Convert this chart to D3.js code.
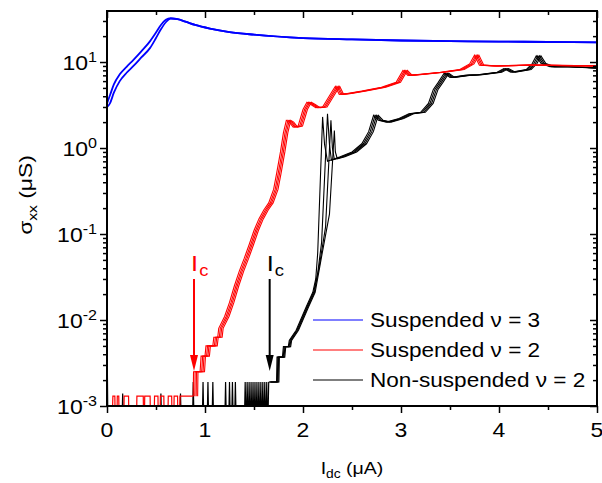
<!DOCTYPE html>
<html>
<head>
<meta charset="utf-8">
<script src="https://cdn.jsdelivr.net/npm/d3@7"></script>
<style>
  body { margin: 0; background: #fff; }
  svg { font-family: "Liberation Sans", Arial, sans-serif; }
</style>
</head>
<body>
<div class="chart"></div>
<script>
// sweep data, I in µA, sigma in µS

// suspended nu = 3, two sweeps (up / down)
const blueUpI = [0, 0.03, 0.07, 0.13, 0.2, 0.27, 0.35, 0.44, 0.5, 0.55, 0.6, 0.65, 0.72, 0.8, 0.9, 1.05, 1.25, 1.5, 2, 2.5, 3, 3.5, 4, 4.5, 5];
const blueUpS = [3.0, 3.3, 4.4, 6.0, 7.5, 9.0, 11.3, 14.6, 19, 24, 29, 32, 31.5, 29.5, 27, 24.5, 22.3, 20.8, 19.0, 18.3, 17.8, 17.5, 17.3, 17.1, 16.9];
const blueDnI = [0, 0.03, 0.07, 0.13, 0.2, 0.27, 0.35, 0.44, 0.5, 0.55, 0.6, 0.65, 0.72, 0.8, 0.9, 1.05, 1.25, 1.5, 2, 2.5, 3, 3.5, 4, 4.5, 5];
const blueDnS = [3.3, 4.1, 5.5, 7.2, 8.8, 10.6, 13.3, 17.5, 22, 27, 31, 32.3, 31.5, 29.5, 27, 24.5, 22.3, 20.8, 19.0, 18.3, 17.8, 17.5, 17.3, 17.1, 16.9];

// suspended nu = 2: noise floor before Ic, then the transition (4 sweeps, each lagging a bit)
const redNoiseI = [0.05, 0.06, 0.08, 0.085, 0.1, 0.105, 0.12, 0.125, 0.17, 0.175, 0.22, 0.225, 0.3, 0.305, 0.37, 0.375, 0.38, 0.385, 0.44, 0.445, 0.48, 0.485, 0.52, 0.525, 0.54, 0.545, 0.58, 0.585, 0.62, 0.625, 0.66, 0.665, 0.68, 0.685, 0.72, 0.725, 0.74, 0.745, 0.88];
const redNoiseS = [0.0005, 0.0013, 0.0013, 0.0005, 0.0005, 0.0013, 0.0013, 0.0005, 0.0005, 0.0013, 0.0013, 0.0005, 0.0005, 0.0013, 0.0013, 0.0005, 0.0005, 0.0013, 0.0013, 0.0005, 0.0005, 0.0013, 0.0013, 0.0005, 0.0005, 0.0013, 0.0013, 0.0005, 0.0005, 0.0013, 0.0013, 0.0005, 0.0005, 0.0013, 0.0013, 0.0005, 0.0005, 0.0013, 0.0013];
const redI = [0.88, 0.883, 0.95, 0.96, 1.0, 1.01, 1.08, 1.09, 1.13, 1.14, 1.2, 1.25, 1.3, 1.35, 1.4, 1.45, 1.5, 1.55, 1.6, 1.65, 1.7, 1.73, 1.77, 1.8, 1.83, 1.86, 1.9, 1.95, 2.0, 2.04, 2.08, 2.13, 2.2, 2.3, 2.33, 2.37, 2.45, 2.6, 2.8, 2.95, 3.02, 3.07, 3.2, 3.4, 3.6, 3.7, 3.75, 3.8, 3.95, 4.3, 5.0];
const redS = [0.0013, 0.0025, 0.0025, 0.0038, 0.0038, 0.005, 0.005, 0.0063, 0.0063, 0.008, 0.011, 0.016, 0.025, 0.037, 0.052, 0.075, 0.11, 0.15, 0.19, 0.23, 0.33, 0.5, 0.9, 1.5, 2.1, 2.0, 1.75, 1.8, 2.8, 3.4, 3.2, 2.95, 3.0, 4.6, 5.2, 4.2, 4.3, 4.6, 5.1, 5.8, 8.0, 7.0, 7.2, 7.6, 8.2, 9.5, 12, 9.2, 9.0, 9.2, 9.0];
const redLag = [0, 0.016, 0.03, 0.045];

// non-suspended nu = 2
const blackNoiseI = [0, 0.01, 0.15, 0.16, 0.17, 0.54, 0.55, 0.56, 0.74, 0.75, 0.76, 0.87, 0.88, 0.89, 0.97, 0.98, 0.99, 1.02, 1.03, 1.04, 1.07, 1.08, 1.09, 1.2, 1.21, 1.22, 1.24, 1.25, 1.26, 1.27, 1.28, 1.29, 1.3, 1.31, 1.32, 1.4, 1.41, 1.42, 1.43, 1.44, 1.45, 1.46, 1.47, 1.48, 1.49, 1.5, 1.51, 1.52, 1.53, 1.54, 1.55, 1.56, 1.57, 1.58, 1.59, 1.6, 1.61, 1.62, 1.63, 1.64, 1.65];
const blackNoiseS = [0.007, 0.0005, 0.0005, 0.0014, 0.0005, 0.0005, 0.0014, 0.0005, 0.0005, 0.0014, 0.0005, 0.0005, 0.0019, 0.0005, 0.0005, 0.0019, 0.0005, 0.0005, 0.0019, 0.0005, 0.0005, 0.0019, 0.0005, 0.0005, 0.0019, 0.0005, 0.0005, 0.0019, 0.0005, 0.0005, 0.0019, 0.0005, 0.0005, 0.0019, 0.0005, 0.0005, 0.0019, 0.0005, 0.0019, 0.0005, 0.0019, 0.0005, 0.0019, 0.0005, 0.0019, 0.0005, 0.0019, 0.0005, 0.0019, 0.0005, 0.0019, 0.0005, 0.0019, 0.0005, 0.0019, 0.0005, 0.0019, 0.0005, 0.0019, 0.0005, 0.0019];
const blackLowI = [1.65, 1.73, 1.735, 1.79, 1.80, 1.85, 1.86, 1.93, 2.03, 2.1];
const blackLowS = [0.0019, 0.0019, 0.0037, 0.0037, 0.0049, 0.0049, 0.0058, 0.0076, 0.014, 0.021];
// each sweep jumps at a slightly different current
const blackJumpI = [
  [2.13, 2.15, 2.2, 2.22, 2.25],
  [2.15, 2.19, 2.25, 2.27, 2.29],
  [2.17, 2.23, 2.285, 2.3, 2.32],
  [2.19, 2.27, 2.32, 2.33, 2.35]
];
const blackJumpS = [
  [0.03, 0.06, 2.3, 1.1, 0.7],
  [0.035, 0.08, 2.5, 1.1, 0.72],
  [0.045, 0.12, 2.1, 1.0, 0.74],
  [0.055, 0.17, 1.6, 0.9, 0.75]
];
const blackHighI = [2.38, 2.5, 2.6, 2.67, 2.72, 2.77, 2.85, 2.98, 3.08, 3.2, 3.28, 3.33, 3.38, 3.44, 3.5, 3.65, 3.78, 3.98, 4.05, 4.12, 4.28, 4.34, 4.38, 4.43, 4.52, 4.7, 5.0];
const blackHighS = [0.79, 0.9, 1.12, 1.55, 2.4, 2.1, 2.0, 2.2, 2.5, 2.6, 3.3, 4.8, 5.8, 7.4, 6.6, 7.0, 7.1, 7.6, 8.4, 7.6, 8.2, 9.6, 11.8, 9.6, 8.8, 8.8, 8.5];
const blackLag = [0, 0.016, 0.032, 0.048];

const xMajor = [0, 1, 2, 3, 4, 5];
const xMinor = [0.5, 1.5, 2.5, 3.5, 4.5];
const yExp = [-3, -2, -1, 0, 1];

const legendItems = [
  {label: 'Suspended \u03bd = 3', color: '#0000ff'},
  {label: 'Suspended \u03bd = 2', color: '#ff0000'},
  {label: 'Non-suspended \u03bd = 2', color: '#000000'}
];

const W = 602, H = 483;
const mLeft = 107, mRight = 597, mTop = 11, mBottom = 406;
const stretch = 1.15; // the original text is a bit wider than Arial

const x = d3.scaleLinear().domain([0, 5]).range([mLeft, mRight]);
const y = d3.scaleLog().domain([1e-3, 39.2]).range([mBottom, mTop]);

const svg = d3.select('.chart').append('svg')
  .attr('width', W)
  .attr('height', H);

svg.append('defs').append('clipPath')
  .attr('id', 'plot')
  .append('rect')
  .attr('x', mLeft).attr('y', mTop)
  .attr('width', mRight - mLeft).attr('height', mBottom - mTop);

const line = d3.line()
  .x(d => x(d[0]))
  .y(d => y(d[1]));

const zip = (a, b, lag) => a.map((v, i) => [v + (lag || 0), b[i]]);

const g = svg.append('g').attr('clip-path', 'url(#plot)');

// black first so red/blue sit on top
g.append('path')
  .attr('d', line(zip(blackNoiseI, blackNoiseS)))
  .attr('fill', 'none').attr('stroke', '#000').attr('stroke-width', 1.2);

blackLag.forEach((lag, k) => {
  const pts = zip(blackLowI, blackLowS, lag / 2)
    .concat(zip(blackJumpI[k], blackJumpS[k]))
    .concat(zip(blackHighI, blackHighS, lag));
  g.append('path')
    .attr('d', line(pts))
    .attr('fill', 'none').attr('stroke', '#000').attr('stroke-width', 1.1);
});

g.append('path')
  .attr('d', line(zip(redNoiseI, redNoiseS)))
  .attr('fill', 'none').attr('stroke', '#ff0000').attr('stroke-width', 1.2);

redLag.forEach(lag => {
  g.append('path')
    .attr('d', line(zip(redI, redS, lag)))
    .attr('fill', 'none').attr('stroke', '#ff0000').attr('stroke-width', 1.1);
});

[[blueUpI, blueUpS], [blueDnI, blueDnS]].forEach(t => {
  g.append('path')
    .attr('d', line.curve(d3.curveMonotoneX)(zip(t[0], t[1])))
    .attr('fill', 'none').attr('stroke', '#0000ff').attr('stroke-width', 1.8);
  line.curve(d3.curveLinear);
});

// axes
const yMinor = [];
yExp.forEach(e => { for (let m = 2; m <= 9; m++) if (m * Math.pow(10, e) <= 39.2) yMinor.push(m * Math.pow(10, e)); });
const yMajor = yExp.map(e => Math.pow(10, e));

function styleAxis(sel) {
  sel.select('.domain').remove();
  sel.selectAll('line').attr('stroke', '#000').attr('stroke-width', 1.5);
}

svg.append('g').attr('transform', `translate(0,${mBottom})`)
  .call(d3.axisBottom(x).tickValues(xMajor).tickSize(7).tickFormat(''))
  .call(styleAxis);
svg.append('g').attr('transform', `translate(0,${mBottom})`)
  .call(d3.axisBottom(x).tickValues(xMinor).tickSize(4).tickFormat(''))
  .call(styleAxis);
svg.append('g').attr('transform', `translate(0,${mTop})`)
  .call(d3.axisBottom(x).tickValues(xMajor).tickSize(7).tickFormat(''))
  .call(styleAxis);
svg.append('g').attr('transform', `translate(0,${mTop})`)
  .call(d3.axisBottom(x).tickValues(xMinor).tickSize(4).tickFormat(''))
  .call(styleAxis);

svg.append('g').attr('transform', `translate(${mLeft},0)`)
  .call(d3.axisLeft(y).tickValues(yMajor).tickSize(7).tickFormat(''))
  .call(styleAxis);
svg.append('g').attr('transform', `translate(${mLeft},0)`)
  .call(d3.axisLeft(y).tickValues(yMinor).tickSize(4).tickFormat(''))
  .call(styleAxis);
svg.append('g').attr('transform', `translate(${mRight},0)`)
  .call(d3.axisLeft(y).tickValues(yMajor).tickSize(7).tickFormat(''))
  .call(styleAxis);
svg.append('g').attr('transform', `translate(${mRight},0)`)
  .call(d3.axisLeft(y).tickValues(yMinor).tickSize(4).tickFormat(''))
  .call(styleAxis);

svg.append('rect')
  .attr('x', mLeft).attr('y', mTop)
  .attr('width', mRight - mLeft).attr('height', mBottom - mTop)
  .attr('fill', 'none').attr('stroke', '#000').attr('stroke-width', 2);

// tick labels
svg.selectAll('.xlab')
  .data(xMajor)
  .enter().append('text')
  .attr('transform', d => `translate(${x(d)},437) scale(${stretch},1)`)
  .attr('text-anchor', 'middle')
  .style('font-size', '20px')
  .text(d => d);

const ylab = svg.selectAll('.ylab')
  .data(yExp)
  .enter().append('text')
  .attr('transform', d => `translate(97,${y(Math.pow(10, d)) + 8}) scale(${stretch},1)`)
  .attr('text-anchor', 'end')
  .style('font-size', '20px');
ylab.append('tspan').text('10');
ylab.append('tspan').attr('dy', -8).style('font-size', '14px').text(d => d < 0 ? '-' + (-d) : d);

// axis titles
const xt = svg.append('text')
  .attr('transform', `translate(352,474) scale(${stretch},1)`)
  .attr('text-anchor', 'middle')
  .style('font-size', '17px');
xt.append('tspan').text('I');
xt.append('tspan').attr('dy', 4).style('font-size', '12px').text('dc');
xt.append('tspan').attr('dy', -4).text(' (\u03bcA)');

const yt = svg.append('text')
  .attr('transform', 'translate(32,195) rotate(-90) scale(1.2,1)')
  .attr('text-anchor', 'middle')
  .style('font-size', '19px');
yt.append('tspan').text('\u03c3');
yt.append('tspan').attr('dy', 5).style('font-size', '13px').text('xx');
yt.append('tspan').attr('dy', -5).text(' (\u03bcS)');

// Ic arrows
const arrows = [
  {i: 0.888, color: '#ff0000'},
  {i: 1.66, color: '#000000'}
];
arrows.forEach(a => {
  const ax = x(a.i);
  svg.append('line')
    .attr('x1', ax).attr('x2', ax)
    .attr('y1', 279).attr('y2', 358)
    .attr('stroke', a.color).attr('stroke-width', 2);
  svg.append('path')
    .attr('d', `M${ax - 4},355 L${ax + 4},355 L${ax},371 Z`)
    .attr('fill', a.color);
  const t = svg.append('text')
    .attr('transform', `translate(${ax - 3},271) scale(${stretch},1)`)
    .attr('fill', a.color)
    .style('font-size', '22px');
  t.append('tspan').text('I');
  t.append('tspan').attr('dy', 5).attr('dx', 1).style('font-size', '16px').text('c');
});

// legend
const leg = svg.append('g');
legendItems.forEach((d, i) => {
  const ly = 320 + i * 30;
  leg.append('line')
    .attr('x1', 313).attr('x2', 363)
    .attr('y1', ly).attr('y2', ly)
    .attr('stroke', d.color).attr('stroke-width', 1.2);
  leg.append('text')
    .attr('transform', `translate(370,${ly + 7}) scale(1.13,1)`)
    .style('font-size', '20px')
    .text(d.label);
});
</script>
</body>
</html>
